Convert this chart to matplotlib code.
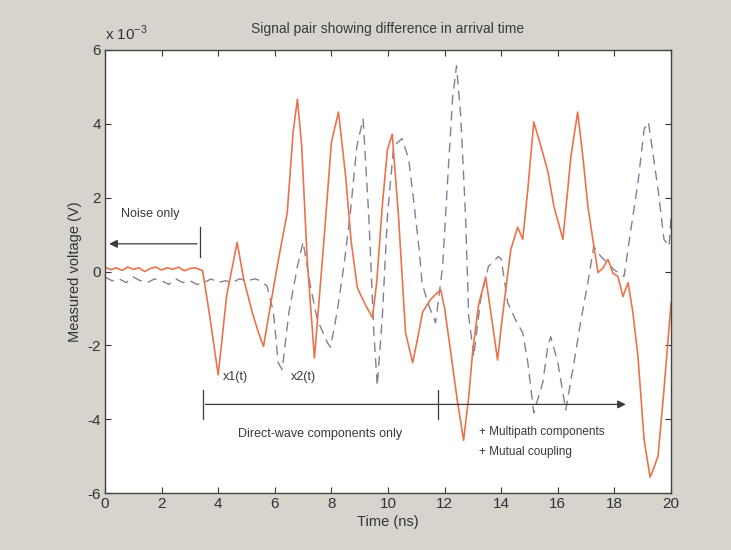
import matplotlib
matplotlib.use("Agg")
import matplotlib.pyplot as plt

plt.rcParams['font.family'] = ['Liberation Sans', 'DejaVu Sans']
plt.rcParams['axes.unicode_minus'] = False

# x1(t): solid trace, values in units of 1e-3 V, time in ns
t1 = [0.0, 0.2, 0.4, 0.6, 0.8, 1.0, 1.2, 1.4, 1.6, 1.8, 2.0, 2.2, 2.4, 2.6,
      2.8, 3.0, 3.2, 3.45, 3.7, 4.0, 4.3, 4.67, 4.9, 5.2, 5.4, 5.6, 5.84,
      6.1, 6.44, 6.65, 6.8, 6.95, 7.15, 7.4, 7.72, 8.0, 8.25, 8.5, 8.7, 8.92,
      9.2, 9.45, 9.6, 9.8, 9.98, 10.15, 10.37, 10.62, 10.87, 11.05, 11.22,
      11.5, 11.86, 12.0, 12.2, 12.45, 12.67, 12.85, 13.0, 13.2, 13.45, 13.65,
      13.87, 14.0, 14.16, 14.34, 14.58, 14.76, 14.94, 15.15, 15.4, 15.65,
      15.86, 16.18, 16.46, 16.7, 16.9, 17.06, 17.25, 17.42, 17.6, 17.77,
      17.95, 18.12, 18.3, 18.48, 18.65, 18.83, 19.05, 19.26, 19.4, 19.54,
      19.75, 19.9, 20.0]
x1 = [0.12, 0.05, 0.1, 0.03, 0.12, 0.06, 0.1, 0.0, 0.08, 0.12, 0.04, 0.1,
      0.06, 0.12, 0.02, 0.08, 0.1, 0.02, -1.2, -2.8, -0.65, 0.79, -0.2,
      -1.1, -1.6, -2.03, -0.95, 0.2, 1.6, 3.8, 4.67, 3.4, 0.25, -2.34, 0.68,
      3.5, 4.32, 2.6, 0.8, -0.45, -0.9, -1.25, -0.3, 1.8, 3.3, 3.72, 1.5,
      -1.66, -2.47, -1.8, -1.1, -0.76, -0.49, -1.0, -2.1, -3.5, -4.57, -3.4,
      -2.1, -0.9, -0.15, -1.2, -2.4, -1.5, -0.49, 0.6, 1.2, 0.87, 2.23, 4.05,
      3.4, 2.7, 1.77, 0.87, 3.1, 4.32, 3.0, 1.77, 0.8, -0.03, 0.1, 0.33,
      -0.05, -0.13, -0.68, -0.3, -1.1, -2.3, -4.57, -5.57, -5.3, -5.0, -3.2,
      -1.8, -0.85]

# x2(t): dashed trace
t2 = [0.0, 0.25, 0.5, 0.75, 1.0, 1.25, 1.5, 1.75, 2.0, 2.25, 2.5, 2.75,
      3.0, 3.25, 3.5, 3.75, 4.0, 4.25, 4.5, 4.75, 5.0, 5.3, 5.5, 5.73, 5.95,
      6.12, 6.26, 6.5, 6.8, 7.0, 7.26, 7.5, 7.86, 7.97, 8.2, 8.45, 8.67, 8.9,
      9.12, 9.32, 9.5, 9.62, 9.8, 9.98, 10.2, 10.5, 10.73, 10.9, 11.1, 11.2,
      11.4, 11.68, 11.93, 12.1, 12.28, 12.42, 12.57, 12.74, 12.85, 13.03,
      13.27, 13.55, 13.9, 14.0, 14.23, 14.5, 14.76, 14.94, 15.15, 15.47,
      15.65, 15.75, 16.0, 16.28, 16.57, 16.8, 17.06, 17.27, 17.52, 17.98,
      18.34, 18.58, 18.83, 19.05, 19.2, 19.54, 19.75, 19.93, 20.0]
x2 = [-0.15, -0.25, -0.2, -0.3, -0.15, -0.25, -0.3, -0.2, -0.25, -0.35,
      -0.2, -0.3, -0.25, -0.35, -0.3, -0.2, -0.3, -0.25, -0.3, -0.2, -0.25,
      -0.2, -0.25, -0.4, -1.1, -2.47, -2.66, -1.1, 0.14, 0.8, -0.4, -1.3,
      -1.93, -2.05, -1.1, 0.2, 1.6, 3.4, 4.13, 1.5, -1.66, -3.1, -1.2, 1.5,
      3.4, 3.6, 3.04, 1.96, 0.6, -0.3, -0.84, -1.39, 0.14, 2.4, 4.67, 5.57,
      4.2, 1.5, -1.2, -2.3, -0.76, 0.14, 0.41, 0.33, -0.85, -1.3, -1.66,
      -2.47, -3.83, -3.0, -2.0, -1.77, -2.47, -3.75, -2.47, -1.39, -0.3,
      0.68, 0.41, 0.05, -0.13, 1.14, 2.4, 3.86, 4.05, 2.23, 0.87, 0.68, 1.5]

xticks = list(range(0, 21, 2))
yticks = list(range(-6, 7, 2))

bg = '#d7d3cd'
fig = plt.figure(figsize=(7.31, 5.5), dpi=100, facecolor=bg)
ax = fig.add_axes([0.1436, 0.1036, 0.7744, 0.8055])

ax.plot(t2, x2, color='#857f96', lw=1.0, ls=(0, (7, 4.5)))
ax.plot(t1, x1, color='#e8744c', lw=1.2)

ax.set_xlim(0, 20)
ax.set_ylim(-6, 6)
ax.set_xticks(xticks)
ax.set_yticks(yticks)
ax.tick_params(direction='in', top=True, right=True, length=4,
               labelsize=11, colors='#333333', pad=3)
for s in ax.spines.values():
    s.set_color('#444444')
    s.set_linewidth(1.0)

ax.set_title('Signal pair showing difference in arrival time',
             fontsize=10, color='#3a3a3a', pad=12)
ax.set_xlabel('Time (ns)', fontsize=10.5, color='#333333', labelpad=3)
ax.set_ylabel('Measured voltage (V)', fontsize=10.5, color='#333333', labelpad=4)
ax.text(0.0, 1.015, r'x 10$^{\mathregular{-3}}$', transform=ax.transAxes,
        fontsize=11, color='#333333', ha='left', va='bottom')

ink = '#3a3a3a'
# noise-only marker
ax.annotate('', xy=(0.05, 0.75), xytext=(3.35, 0.75),
            arrowprops=dict(arrowstyle='-|>', color=ink, lw=0.9,
                            mutation_scale=12))
ax.plot([3.35, 3.35], [0.4, 1.2], color=ink, lw=0.9)
ax.text(0.55, 1.55, 'Noise only', fontsize=9, color=ink, ha='left', va='center')

# direct-wave / multipath marker
ax.annotate('', xy=(18.5, -3.6), xytext=(3.45, -3.6),
            arrowprops=dict(arrowstyle='-|>', color=ink, lw=0.9,
                            mutation_scale=12))
ax.plot([3.45, 3.45], [-3.2, -4.0], color=ink, lw=0.9)
ax.plot([11.75, 11.75], [-3.2, -4.0], color=ink, lw=0.9)
ax.text(7.6, -4.4, 'Direct-wave components only', fontsize=9, color=ink,
        ha='center', va='center')
ax.text(13.2, -4.35, '+ Multipath components', fontsize=8.5, color=ink,
        ha='left', va='center')
ax.text(13.2, -4.9, '+ Mutual coupling', fontsize=8.5, color=ink,
        ha='left', va='center')

ax.text(4.15, -2.85, 'x1(t)', fontsize=9, color=ink, ha='left', va='center')
ax.text(6.55, -2.85, 'x2(t)', fontsize=9, color=ink, ha='left', va='center')

fig.savefig('out.png', dpi=100, facecolor=bg)
